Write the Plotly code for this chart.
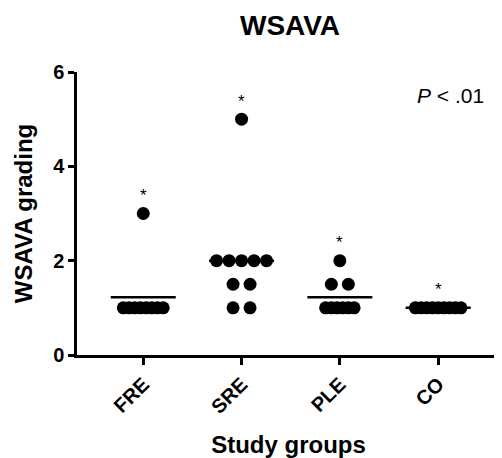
import plotly.graph_objects as go
from collections import Counter

groups = ["FRE", "SRE", "PLE", "CO"]
fre = [1, 1, 1, 1, 1, 1, 1, 1, 3]
sre = [5, 2, 2, 2, 2, 2, 1.5, 1.5, 1, 1]
ple = [2, 1.5, 1.5, 1, 1, 1, 1, 1, 1]
co = [1, 1, 1, 1, 1, 1, 1, 1, 1]
values = [fre, sre, ple, co]
y_ticks = [0, 2, 4, 6]

PX = 98.3  # pixels per category unit
FONT = "Arial, Liberation Sans, sans-serif"
BODY = 8   # default page body margin compensated

def spacing(n):
    if n <= 2:
        return 17
    if n <= 5:
        return 12.5
    return 5.7

xs, ys = [], []
mx, my = [], []
annots = []
for gi, vals in enumerate(values):
    cnt = Counter(vals)
    for v, n in cnt.items():
        s = spacing(n)
        for k in range(n):
            off = (k - (n - 1) / 2) * s / PX
            xs.append(gi + off)
            ys.append(v)
    m = sum(vals) / len(vals)
    mx += [gi - 32.5 / PX, gi + 32.5 / PX, None]
    my += [m, m, None]
    annots.append(dict(x=gi, y=max(vals) + 0.38, text="*", showarrow=False,
                       font=dict(size=17, color="black", family=FONT),
                       xref="x", yref="y"))

fig = go.Figure()
fig.add_trace(go.Scatter(x=mx, y=my, mode="lines",
                         line=dict(color="black", width=2.5),
                         hoverinfo="skip", showlegend=False))
fig.add_trace(go.Scatter(x=xs, y=ys, mode="markers",
                         marker=dict(color="black", size=13, line=dict(width=0)),
                         showlegend=False, cliponaxis=False))

annots.append(dict(x=(450 - 77) / 423, y=(355 - 95) / 283, xref="paper", yref="paper",
                   xanchor="center", yanchor="middle",
                   text="<i>P</i> < .01", showarrow=False,
                   font=dict(size=21, color="black", family=FONT)))

W, H = 502 - BODY, 458 - BODY
fig.update_layout(
    width=W, height=H,
    margin=dict(l=77 - BODY, r=2, t=72 - BODY, b=103),
    paper_bgcolor="white", plot_bgcolor="white",
    title=dict(text="<b>WSAVA</b>", x=(290 - BODY) / W, xanchor="center",
               y=1 - (25 - BODY) / H, yanchor="middle",
               font=dict(size=28, color="black", family=FONT)),
    annotations=annots,
    xaxis=dict(range=[-0.674, 3.629], tickvals=list(range(len(groups))),
               ticktext=["<b>%s</b>" % g for g in groups],
               tickangle=-45, ticks="outside", ticklen=7, tickwidth=2.5,
               tickcolor="black", showline=True, linecolor="black", linewidth=2.5,
               showgrid=False, zeroline=False, automargin=False,
               tickfont=dict(size=20, color="black", family=FONT),
               title=dict(text="<b>Study groups</b>", standoff=24,
                          font=dict(size=24, color="black", family=FONT))),
    yaxis=dict(range=[0, 6], tickvals=y_ticks,
               ticktext=["<b>%d</b>" % t for t in y_ticks],
               ticks="outside", ticklen=6, tickwidth=2.5, tickcolor="black",
               showline=True, linecolor="black", linewidth=2.5,
               showgrid=False, zeroline=False, automargin=False,
               tickfont=dict(size=20, color="black", family=FONT),
               title=dict(text="<b>WSAVA grading</b>", standoff=14,
                          font=dict(size=24, color="black", family=FONT))),
)

fig.write_html("out.html")
